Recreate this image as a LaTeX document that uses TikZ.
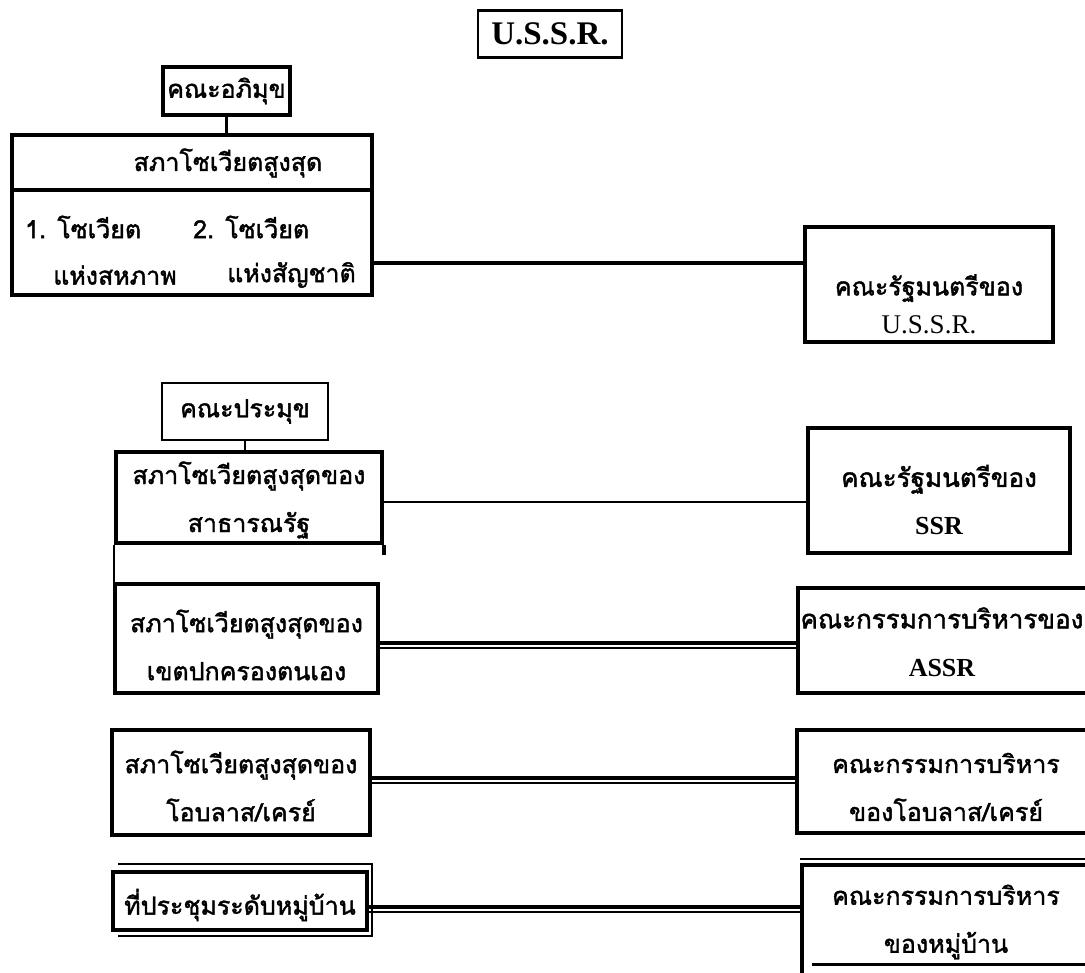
\documentclass[tikz,border=0pt]{standalone}
\usepackage{fontspec}
\setmainfont{Liberation Serif}
\newfontfamily\thai[Script=Thai, FakeBold=1.6]{Loma}
\begin{document}
\begin{tikzpicture}[x=1pt,y=-1pt,
  bx/.style={draw, line width=3.2pt, inner sep=0pt},
  th/.style={font=\thai\fontsize{25}{48}\selectfont, align=center, inner sep=0pt},
  lat/.style={font=\fontsize{27}{48}\selectfont, align=center, inner sep=0pt},
  ln/.style={line width=3.4pt},
  lnthin/.style={line width=2pt},
]
\useasboundingbox (0,0) rectangle (1085,973);
\clip (0,0) rectangle (1085,973);
\fill[white] (0,0) rectangle (1085,973);

% ---- top: USSR
\node[bx, line width=2.6pt, minimum width=144pt, minimum height=47pt,
      font=\bfseries\fontsize{33}{36}\selectfont] (ussr) at (550,34) {U.S.S.R.};

\node[bx, minimum width=127pt, minimum height=48pt] (apex) at (226.5,91) {};
\node[th] (apext) at (226.5,91) {คณะอภิมุข};

\node[bx, line width=3.6pt, minimum width=360pt, minimum height=160pt] (big) at (192,215) {};
\draw[line width=3.6pt] (big.west |- 0,190) -- (big.east |- 0,190);
\node[th] (bigt) at (228,163) {สภาโซเวียตสูงสุด};
\node[th, anchor=west] (i1a) at (25,227) {1. โซเวียต};
\node[th, anchor=west] (i1b) at (53,275) {แห่งสหภาพ};
\node[th, anchor=west] (i2a) at (193,227) {2. โซเวียต};
\node[th, anchor=west] (i2b) at (227,275) {แห่งสัญชาติ};
\draw[ln] (apex.south) -- (apex.south |- big.north);

\node[bx, minimum width=248pt, minimum height=115pt] (r1) at (929,284.5) {};
\node[lat] (r1t) at (929,304) {{\thai\fontsize{25}{48}\selectfont คณะรัฐมนตรีของ}\\[-10pt]U.S.S.R.};
\draw[line width=3.6pt] (big.east |- 0,263) -- (r1.west |- 0,263);

% ---- republic level
\node[bx, line width=2.6pt, minimum width=166pt, minimum height=57pt] (pres) at (245,411.5) {};
\node[th] (prest) at (245,411.5) {คณะประมุข};

\node[bx, line width=3.6pt, minimum width=266pt, minimum height=91pt] (rep) at (249,497.5) {};
\node[th] (rept) at (249,500) {สภาโซเวียตสูงสุดของ\\สาธารณรัฐ};
\draw[lnthin] (pres.south) -- (pres.south |- rep.north);
\draw[line width=3.6pt] (rep.south east) -- ++(0,10);

\node[bx, line width=4pt, minimum width=263pt, minimum height=109pt] (aut) at (246.5,638.5) {};
\node[th] (autt) at (246.5,645) {สภาโซเวียตสูงสุดของ\\เขตปกครองตนเอง};
\draw[lnthin] (rep.south west) -- (rep.south west |- aut.north);

\node[bx, minimum width=262pt, minimum height=125pt] (r2) at (939,490.5) {};
\node[lat, font=\bfseries\fontsize{26}{48}\selectfont] (r2t) at (939,500) {{\thai\mdseries คณะรัฐมนตรีของ}\\SSR};
\draw[lnthin] (rep.east |- 0,502) -- (r2.west |- 0,502);

\node[bx, line width=3.6pt, minimum width=302pt, minimum height=105pt] (r3) at (949,640.5) {};
\node[lat, font=\bfseries\fontsize{26}{48}\selectfont] (r3t) at (942,642) {{\thai\mdseries คณะกรรมการบริหารของ}\\ASSR};
\draw[ln] (aut.east |- 0,643) -- (r3.west |- 0,643);
\draw[lnthin] (aut.east |- 0,648) -- (r3.west |- 0,648);

% ---- oblast
\node[bx, minimum width=258pt, minimum height=105pt] (obl) at (241,782.5) {};
\node[th] (oblt) at (241,786) {สภาโซเวียตสูงสุดของ\\โอบลาส/เครย์};
\node[bx, minimum width=303pt, minimum height=103pt] (r4) at (948.5,781.5) {};
\node[th] (r4t) at (946,787) {คณะกรรมการบริหาร\\ของโอบลาส/เครย์};
\draw[ln] (obl.east |- 0,778) -- (r4.west |- 0,778);
\draw[lnthin] (obl.east |- 0,783) -- (r4.west |- 0,783);

% ---- village
\node[bx, minimum width=254pt, minimum height=58pt] (vil) at (240,901) {};
\node[th] (vilt) at (240,905) {ที่ประชุมระดับหมู่บ้าน};
\draw[line width=2.8pt] (118,864) -- (372,864) -- (372,936) -- (118,936);
\node[bx, minimum width=298pt, minimum height=120pt] (r5) at (951,925) {};
\node[th] (r5t) at (946,922) {คณะกรรมการบริหาร\\ของหมู่บ้าน};
\draw[line width=2.8pt] (r5.north west |- 0,859) -- (r5.north east |- 0,859);
\draw[line width=3pt] (812,964) -- (r5.east |- 0,964);
\draw[ln] (vil.east |- 0,907) -- (r5.west |- 0,907);
\draw[lnthin] (vil.east |- 0,912) -- (r5.west |- 0,912);
\end{tikzpicture}
\end{document}
